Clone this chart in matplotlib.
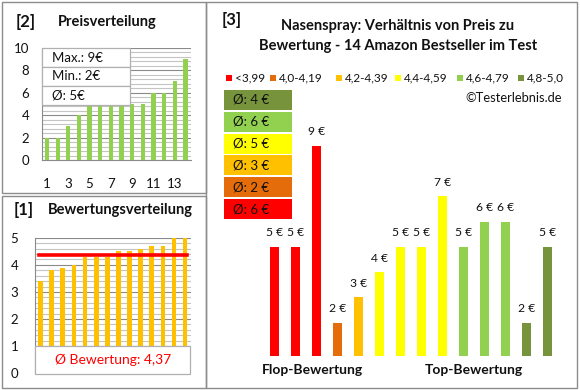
import numpy as np
import matplotlib
matplotlib.use('Agg')
import matplotlib.pyplot as plt
from matplotlib.patches import Rectangle
from matplotlib.ticker import MultipleLocator

plt.rcParams['font.family'] = ['Lato', 'DejaVu Sans']

# Daten
preise = [5, 5, 9, 2, 3, 4, 5, 5, 7, 5, 6, 6, 2, 5]
preis_farben = ['<3,99', '<3,99', '<3,99', '4,0-4,19', '4,2-4,39',
                '4,4-4,59', '4,4-4,59', '4,4-4,59', '4,4-4,59',
                '4,6-4,79', '4,6-4,79', '4,6-4,79', '4,8-5,0', '4,8-5,0']
bewertungen = [3.4, 3.8, 3.9, 4.0, 4.3, 4.3, 4.3, 4.5, 4.5, 4.6, 4.7, 4.7, 5.0, 5.0]
bewertung_schnitt = 4.37
klassen = ['<3,99', '4,0-4,19', '4,2-4,39', '4,4-4,59', '4,6-4,79', '4,8-5,0']
klassen_farben = ['#FF0000', '#E46C0A', '#FFC000', '#FFFF00', '#92D050', '#77933C']
klassen_schnitt = [6, 2, 3, 5, 6, 4]   # Ø-Preis je Klasse

W, H = 580, 390
fig = plt.figure(figsize=(W / 100, H / 100), dpi=100)


def box(x0, y0, x1, y1):
    return [x0 / W, 1 - y1 / H, (x1 - x0) / W, (y1 - y0) / H]


def fx(x):
    return x / W


def fy(y):
    return 1 - y / H


def rect(x0, y0, x1, y1, fc='none', ec='#8c8c8c', lw=1.0, z=1):
    fig.add_artist(Rectangle((fx(x0), fy(y1)), (x1 - x0) / W, (y1 - y0) / H,
                             transform=fig.transFigure, fc=fc, ec=ec, lw=lw, zorder=z))


def text(x, y, s, **kw):
    kw.setdefault('va', 'center')
    kw.setdefault('color', '#111111')
    fig.text(fx(x), fy(y), s, **kw)


# Rahmen
rect(2, 2, 206, 193)
rect(2, 196, 206, 388)
rect(206, 2, 577, 388)

# ---------- [2] Preisverteilung ----------
ax2 = fig.add_axes(box(41.7, 47.7, 190.7, 160))
p_sorted = sorted(preise)
x = np.arange(1, len(p_sorted) + 1)
ax2.bar(x, p_sorted, width=0.4, color='#92D050', zorder=3)
ax2.set_xlim(0.5, 14.5)
ax2.set_ylim(0, 10)
ax2.yaxis.set_major_locator(MultipleLocator(2))
ax2.yaxis.set_minor_locator(MultipleLocator(0.4))
ax2.set_xticks(x[::2])
ax2.grid(axis='y', which='major', color='#8a8a8a', lw=0.8, zorder=0)
ax2.grid(axis='y', which='minor', color='#c4c4c4', lw=0.8, zorder=0)
for s in ['top', 'right']:
    ax2.spines[s].set_visible(False)
for s in ['left', 'bottom']:
    ax2.spines[s].set_color('#8a8a8a')
ax2.tick_params(which='both', length=0, labelsize=9.5, colors='#111111')
ax2.tick_params(axis='y', pad=9)
ax2.tick_params(axis='x', pad=13)

text(16, 22, '[2]', fontsize=12, fontweight='bold')
text(58, 22, 'Preisverteilung', fontsize=10.5, fontweight='bold')

# Statistik-Box
stats = [f'Max.: {max(preise)}€', f'Min.: {min(preise)}€',
         f'Ø: {round(np.mean(preise))}€']
for i, s in enumerate(stats):
    y0 = 48 + i * 19
    rect(42, y0, 130, y0 + 19, fc='white', ec='#b0b0b0', lw=0.9, z=2)
    text(52, y0 + 9.5, s, fontsize=9.5, zorder=4)

# ---------- [1] Bewertungsverteilung ----------
ax1 = fig.add_axes(box(35, 237.7, 190.7, 373.3))
xb = np.arange(1, len(bewertungen) + 1)
ax1.bar(xb, bewertungen, width=0.42, color='#FFC000', zorder=3)
ax1.plot([0.85, 14.15], [bewertung_schnitt] * 2, color='#FF0000', lw=2.6, zorder=4)
ax1.set_xlim(0.5, 14.5)
ax1.set_ylim(0, 5)
ax1.yaxis.set_major_locator(MultipleLocator(1))
ax1.yaxis.set_minor_locator(MultipleLocator(0.2))
ax1.set_xticks([])
ax1.grid(axis='y', which='major', color='#8a8a8a', lw=0.8, zorder=0)
ax1.grid(axis='y', which='minor', color='#c4c4c4', lw=0.8, zorder=0)
for s in ['top', 'right', 'bottom']:
    ax1.spines[s].set_visible(False)
ax1.spines['left'].set_color('#8a8a8a')
ax1.tick_params(which='both', length=0, labelsize=9.5, colors='#111111')
ax1.tick_params(axis='y', pad=12)

rect(35, 346, 190, 374, fc='white', ec='#b0b0b0', lw=0.9, z=2)
text(113, 360, 'Ø Bewertung: ' + f'{bewertung_schnitt:.2f}'.replace('.', ','),
     fontsize=10, color='#FF0000', ha='center', zorder=4)
text(14, 210, '[1]', fontsize=12, fontweight='bold')
text(48, 210, 'Bewertungsverteilung', fontsize=10.5, fontweight='bold')

# ---------- [3] Preis zu Bewertung ----------
ax3 = fig.add_axes(box(263.8, 100, 557.8, 355.7))
farbe = dict(zip(klassen, klassen_farben))
xi = np.arange(len(preise))
ax3.bar(xi, preise, width=0.43, color=[farbe[k] for k in preis_farben])
for i, v in zip(xi, preise):
    ax3.text(i, v + 0.55, f'{v} €', ha='center', va='center', fontsize=8.7, color='#111111')
ax3.set_xlim(-0.5, len(preise) - 0.5)
ax3.set_ylim(0.7, 10.8)
ax3.axis('off')

text(222, 20, '[3]', fontsize=12, fontweight='bold')
text(398, 26, 'Nasenspray: Verhältnis von Preis zu', fontsize=10.5,
     fontweight='bold', ha='center')
text(398, 46, 'Bewertung - 14 Amazon Bestseller im Test', fontsize=10.5,
     fontweight='bold', ha='center')

# Legende
leg_x = [229, 273.3, 339, 398.3, 460.3, 521]
for lx, k, c in zip(leg_x, klassen, klassen_farben):
    rect(lx - 3, 75, lx + 3, 81, fc=c, ec='none', z=2)
    text(lx + 6, 78, k, fontsize=8.5)
text(562, 98, '©Testerlebnis.de', fontsize=9.3, ha='right')

# Ø-Boxen (von oben: beste Klasse zuerst)
for j, (c, s) in enumerate(zip(klassen_farben[::-1], klassen_schnitt[::-1])):
    y0 = 90 + j * 21.8
    rect(224, y0, 291.5, y0 + 20, fc=c, ec='none', z=2)
    text(233, y0 + 10, f'Ø: {s} €', fontsize=9.5, zorder=4)

text(312, 370, 'Flop-Bewertung', fontsize=10, fontweight='bold', ha='center')
text(474, 370, 'Top-Bewertung', fontsize=10, fontweight='bold', ha='center')

fig.savefig('out.png', dpi=100, facecolor='white')
